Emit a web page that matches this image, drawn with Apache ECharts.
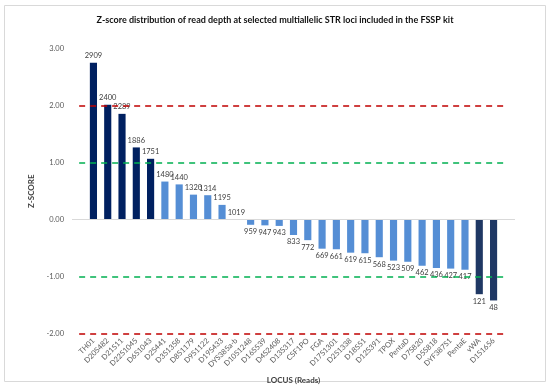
<!DOCTYPE html>
<html>
<head>
<meta charset="utf-8">
<script src="https://cdn.jsdelivr.net/npm/echarts@6/dist/echarts.min.js"></script>
<style>html,body{margin:0;padding:0;background:#fff}#c{width:550px;height:389px}</style>
</head>
<body>
<div id="c"></div>
<script>
const loci = ['TH01','D20S482','D21S11','D22S1045','D6S1043','D2S441','D3S1358','D8S1179','D9S1122','D19S433','DYS385a-b','D10S1248','D16S539','D4S2408','D13S317','CSF1PO','FGA','D17S1301','D2S1338','D18S51','D12S391','TPOX','PentaD','D7S820','D5S818','DYF387S1','PentaE','vWA','D1S1656'];
const reads = [2909,2400,2289,1886,1751,1480,1440,1320,1314,1195,1019,959,947,943,833,772,669,661,619,615,568,523,509,462,436,427,417,121,48];
const zscores = [2.76,2.02,1.86,1.27,1.07,0.67,0.62,0.44,0.43,0.26,0.003,-0.09,-0.10,-0.11,-0.27,-0.36,-0.51,-0.52,-0.58,-0.59,-0.66,-0.72,-0.74,-0.81,-0.85,-0.86,-0.88,-1.31,-1.42];
const yTicks = [-2,-1,0,1,2,3];
const thresholds = [{v:2,c:'#C00000'},{v:1,c:'#00B050'},{v:-1,c:'#00B050'},{v:-2,c:'#C00000'}];

const cats = [''].concat(loci).concat(['']);
const barData = [{value:'-'}].concat(zscores.map((z,i)=>({
  value: z,
  itemStyle:{color: z>=1 ? '#002060' : (z<=-1 ? '#1F3864' : '#558ED5')},
  label:{position: z>=0 ? 'top' : 'bottom', formatter: String(reads[i])}
}))).concat([{value:'-'}]);

const chart = echarts.init(document.getElementById('c'));
const labelFont = 'Lato, "Liberation Sans", sans-serif';
chart.setOption({
  animation:false,
  title:{text:'Z-score distribution of read depth at selected multiallelic STR loci included in the FSSP kit',
    left:'center', top:11, textStyle:{fontSize:9, fontWeight:'bold', color:'#111', fontFamily:labelFont}},
  graphic:[{type:'rect', shape:{x:4.5,y:5.5,width:541,height:376}, style:{fill:'none', stroke:'#D9D9D9', lineWidth:1}, silent:true}],
  grid:{left:72, right:35, top:49, bottom:54},
  xAxis:{type:'category', data:cats, axisLine:{show:false, onZero:false}, axisTick:{show:false},
    axisLabel:{rotate:45, fontSize:7.5, color:'#595959', margin:6, interval:0, fontFamily:labelFont},
    name:'LOCUS (Reads)', nameLocation:'middle', nameGap:40,
    nameTextStyle:{fontSize:8, fontWeight:'bold', color:'#404040', fontFamily:labelFont}},
  yAxis:{type:'value', min:yTicks[0], max:yTicks[yTicks.length-1], interval:1,
    axisLine:{show:false}, axisTick:{show:false}, splitLine:{show:false},
    axisLabel:{fontSize:7.5, color:'#595959', margin:8, formatter:v=>v.toFixed(2), fontFamily:labelFont},
    name:'Z-SCORE', nameLocation:'middle', nameRotate:90, nameGap:27,
    nameTextStyle:{fontSize:8, fontWeight:'bold', color:'#404040', fontFamily:labelFont}},
  series:[{
    type:'bar', data:barData, barWidth:'50%',
    label:{show:true, fontSize:7.5, color:'#404040', distance:3, fontFamily:labelFont},
    markLine:{silent:true, symbol:['none','none'], label:{show:false},
      data:[{yAxis:0, lineStyle:{color:'#D9D9D9', type:'solid', width:1}}].concat(
        thresholds.map(t=>[{coord:[0,t.v], lineStyle:{color:t.c, type:[6,5], width:1.5}},{coord:[cats.length-1,t.v]}]))
    }
  }]
});
</script>
</body>
</html>
